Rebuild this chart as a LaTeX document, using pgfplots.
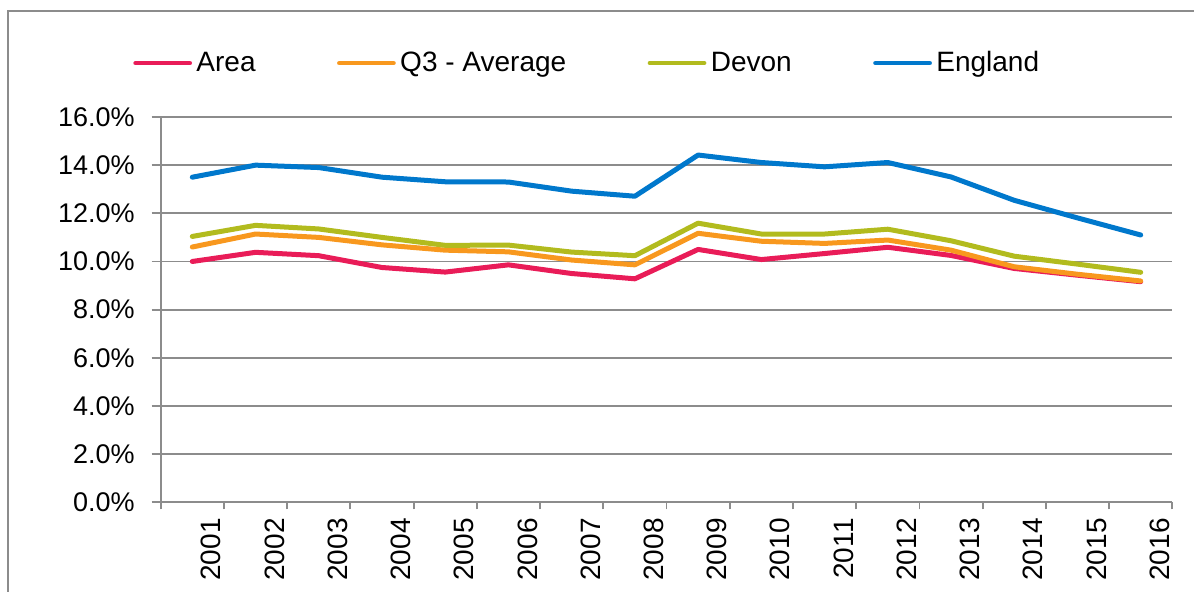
\documentclass[border=0pt]{standalone}
\usepackage{fontspec}
\setmainfont{Liberation Sans}
\usepackage{pgfplots}
\pgfplotsset{compat=1.18}

\definecolor{areaRed}{RGB}{233,28,88}
\definecolor{qOrange}{RGB}{248,152,30}
\definecolor{devonGreen}{RGB}{178,187,30}
\definecolor{engBlue}{RGB}{0,120,204}
\definecolor{gridGray}{RGB}{140,140,140}

\pgfplotstableread{
year area q3 devon england
1 10.00 10.60 11.04 13.50
2 10.38 11.14 11.50 14.00
3 10.24 11.00 11.35 13.90
4 9.75 10.69 11.00 13.50
5 9.56 10.47 10.67 13.31
6 9.86 10.40 10.68 13.30
7 9.50 10.06 10.39 12.92
8 9.28 9.86 10.24 12.71
9 10.50 11.17 11.59 14.42
10 10.08 10.84 11.14 14.11
11 10.33 10.75 11.14 13.93
12 10.59 10.89 11.34 14.11
13 10.25 10.47 10.86 13.51
14 9.71 9.78 10.22 12.54
15 9.43 9.47 9.89 11.81
16 9.16 9.19 9.55 11.10
}\datatable

\begin{document}
\begin{tikzpicture}
\useasboundingbox (0,0) rectangle (597pt,296pt);
\clip (0,0) rectangle (597pt,296pt);
% outer chart frame (cut off at right and bottom)
\draw[gridGray, line width=1pt] (4pt,-20pt) -- (4pt,290.5pt) -- (620pt,290.5pt);

\begin{axis}[
  at={(80.35pt,44.85pt)}, anchor=south west,
  width=505.8pt, height=192.65pt, scale only axis,
  xmin=0.5, xmax=16.5,
  ymin=0, ymax=16,
  axis x line=bottom, axis y line=left,
  axis line style={gridGray, line width=0.9pt, -},
  xtick={1,...,16},
  xticklabels={2001,2002,2003,2004,2005,2006,2007,2008,2009,2010,2011,2012,2013,2014,2015,2016},
  major x tick style={draw=none},
  minor xtick={0.5,1.5,...,16.5},
  minor x tick style={gridGray, line width=0.9pt},
  minor tick length=3.5pt,
  xtick align=outside,
  xticklabel style={rotate=90, anchor=east, font=\fontsize{14}{16}\selectfont, yshift=-9.5pt},
  ytick={0,2,...,16},
  ymajorgrids,
  grid style={gridGray, line width=0.9pt},
  major y tick style={gridGray, line width=0.9pt},
  major tick length=4.5pt,
  ytick align=outside,
  yticklabel={\pgfmathprintnumber[fixed,fixed zerofill,precision=1]{\tick}\%},
  yticklabel style={font=\fontsize{13.5}{15}\selectfont, xshift=-5pt},
  /pgf/number format/assume math mode=true,
  legend columns=4,
  legend style={at={(axis description cs:-0.0275,1.140)}, anchor=west, draw=none, fill=none,
    inner sep=0pt, font=\fontsize{14}{16}\selectfont,
    nodes={inner xsep=2.2pt},
    /tikz/every even column/.append style={column sep=38.5pt}},
  legend image code/.code={\draw[#1, line width=2.4pt, line cap=round] (0pt,0pt) -- (27pt,0pt);},
  every axis plot/.append style={line width=2.5pt, line join=round, line cap=round, mark=none},
  clip=false,
]
\addplot[areaRed] table[x=year, y=area] {\datatable};
\addlegendentry{Area}
\addplot[qOrange] table[x=year, y=q3] {\datatable};
\addlegendentry{Q3 - Average}
\addplot[devonGreen] table[x=year, y=devon] {\datatable};
\addlegendentry{Devon}
\addplot[engBlue] table[x=year, y=england] {\datatable};
\addlegendentry{England}
\end{axis}
\end{tikzpicture}
\end{document}
